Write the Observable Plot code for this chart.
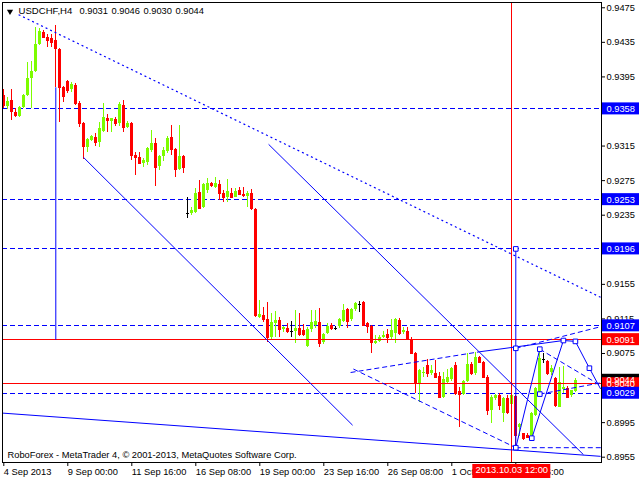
<!DOCTYPE html>
<html><head><meta charset="utf-8">
<script src="https://cdn.jsdelivr.net/npm/d3@7"></script>
<script src="https://cdn.jsdelivr.net/npm/@observablehq/plot@0.6"></script>
<style>
html,body{margin:0;padding:0;background:#fff;}
#chart svg{display:block;}
</style>
</head><body><div id="chart"></div>
<script>
const symbolTitle = "USDCHF,H4";
const headerQuote = [0.9031, 0.9046, 0.9030, 0.9044];
const copyright = "RoboForex - MetaTrader 4, \u00a9 2001-2013, MetaQuotes Software Corp.";

const opens = [.9373,.9361,.9368,.9354,.9349,.9360,.9373,.9393,.9401,.9433,.9446,.9441,.9439,.9437,.9427,.9383,.9390,.9380,.9385,.9364,
.9341,.9313,.9321,.9325,.9319,.9332,.9347,.9343,.9346,.9341,.9362,.9336,.9341,.9304,.9302,.9295,.9296,.9310,.9318,.9291,
.9303,.9309,.9325,.9311,.9288,.9303,.9237,.9237,.9238,.9261,.9244,.9264,.9272,.9267,.9271,.9260,.9255,.9260,.9255,.9264,
.9259,.9257,.9260,.9242,.9117,.9119,.9114,.9094,.9110,.9113,.9103,.9104,.9100,.9100,.9104,.9102,.9083,.9103,.9107,.9111,
.9088,.9098,.9107,.9104,.9106,.9112,.9126,.9114,.9126,.9132,.9134,.9110,.9106,.9087,.9089,.9094,.9097,.9094,.9098,.9113,
.9099,.9100,.9091,.9075,.9040,.9052,.9061,.9052,.9052,.9048,.9024,.9041,.9045,.9061,.9031,.9028,.9043,.9062,.9052,.9070,
.9065,.9047,.9009,.9023,.9026,.9006,.9023,.9016,.9025,.8989,.8982,.8980,.8979,.9003,.9029,.9068,.9066,.9053,.9046,.9013,
.9033,.9034,.9026,.9031];
const highs = [.9380,.9371,.9380,.9358,.9361,.9375,.9412,.9413,.9452,.9451,.9449,.9444,.9444,.9454,.9428,.9384,.9391,.9389,.9387,.9367,
.9342,.9324,.9327,.9330,.9342,.9364,.9352,.9347,.9348,.9365,.9368,.9343,.9342,.9308,.9308,.9301,.9313,.9333,.9324,.9304,
.9313,.9326,.9339,.9312,.9339,.9304,.9255,.9244,.9266,.9275,.9272,.9278,.9273,.9279,.9275,.9264,.9276,.9266,.9266,.9267,
.9267,.9262,.9265,.9243,.9136,.9128,.9134,.9121,.9124,.9117,.9106,.9110,.9112,.9125,.9121,.9109,.9105,.9125,.9125,.9127,
.9098,.9110,.9110,.9106,.9115,.9132,.9127,.9127,.9134,.9135,.9135,.9111,.9107,.9096,.9096,.9100,.9103,.9114,.9115,.9115,
.9105,.9105,.9094,.9076,.9056,.9059,.9068,.9061,.9067,.9053,.9053,.9056,.9059,.9065,.9036,.9044,.9075,.9065,.9076,.9071,
.9066,.9050,.9026,.9028,.9029,.9024,.9026,.9029,.9026,.8994,.8983,.8982,.9007,.9036,.9080,.9075,.9067,.9061,.9047,.9059,
.9060,.9037,.9032,.9046];
const lows = [.9358,.9357,.9345,.9348,.9348,.9358,.9372,.9358,.9400,.9431,.9441,.9429,.9429,.9383,.9342,.9365,.9376,.9377,.9362,.9336,
.9299,.9308,.9320,.9315,.9313,.9331,.9331,.9331,.9338,.9338,.9331,.9335,.9298,.9281,.9294,.9290,.9293,.9308,.9268,.9287,
.9297,.9306,.9304,.9279,.9287,.9283,.9231,.9235,.9237,.9242,.9243,.9260,.9267,.9266,.9252,.9250,.9250,.9255,.9255,.9259,
.9255,.9244,.9240,.9117,.9115,.9111,.9088,.9090,.9094,.9094,.9099,.9098,.9094,.9087,.9095,.9095,.9082,.9099,.9104,.9082,
.9085,.9097,.9102,.9102,.9104,.9111,.9104,.9112,.9124,.9122,.9107,.9098,.9075,.9085,.9088,.9092,.9087,.9091,.9087,.9096,
.9097,.9090,.9074,.9029,.9018,.9047,.9047,.9050,.9046,.9023,.9023,.9039,.9043,.9026,.8989,.9026,.9041,.9050,.9050,.9063,
.9046,.9003,.8994,.9021,.9009,.8995,.9004,.9014,.8966,.8979,.8974,.8977,.8977,.9002,.9026,.9063,.9050,.9050,.9013,.9013,
.9029,.9024,.9024,.9030];
const closes = [.9362,.9367,.9355,.9350,.9360,.9373,.9393,.9401,.9433,.9448,.9441,.9437,.9435,.9428,.9383,.9372,.9379,.9386,.9364,.9341,
.9315,.9323,.9326,.9319,.9335,.9348,.9345,.9347,.9341,.9363,.9336,.9341,.9304,.9302,.9295,.9298,.9312,.9318,.9290,.9303,
.9310,.9324,.9311,.9288,.9303,.9290,.9237,.9240,.9260,.9243,.9271,.9272,.9269,.9272,.9260,.9255,.9262,.9255,.9262,.9259,
.9258,.9260,.9243,.9119,.9120,.9114,.9094,.9111,.9113,.9103,.9105,.9100,.9100,.9104,.9097,.9097,.9103,.9111,.9112,.9087,
.9097,.9106,.9104,.9104,.9114,.9125,.9112,.9126,.9133,.9132,.9107,.9106,.9088,.9089,.9094,.9096,.9094,.9102,.9114,.9098,
.9102,.9092,.9075,.9040,.9055,.9053,.9052,.9055,.9047,.9024,.9045,.9047,.9058,.9029,.9028,.9043,.9062,.9052,.9070,.9065,
.9047,.9009,.9024,.9026,.9015,.9023,.9007,.9026,.8980,.8993,.8977,.8978,.9006,.9034,.9069,.9068,.9052,.9058,.9015,.9041,
.9036,.9024,.9032,.9044];

const dateTickBars = [0, 16, 32, 48, 64, 80, 96, 112, 128];
const dateTickLabels = ["4 Sep 2013", "9 Sep 00:00", "11 Sep 16:00", "16 Sep 08:00", "19 Sep 00:00", "23 Sep 16:00", "26 Sep 08:00", "1 Oct 00:00", "3 Oct 16:00"];
// price ticks whose labels are not covered by a level tag
const priceTicks = [0.9475, 0.9435, 0.9395, 0.9315, 0.9275, 0.9235, 0.9155, 0.9115, 0.9075, 0.8995, 0.8955];

const blueLevels = [0.9358, 0.9253, 0.9196, 0.9107, 0.9029];
const redLevels = [0.9091, 0.9040];
const lastPrice = 0.9044;
const markerBar = 127;
const markerLabel = "2013.10.03 12:00";

// trend objects: [bar1, price1, bar2, price2]
const solidLines = [
  [19.9, 0.9302, 87.2, 0.8992],
  [66.2, 0.9317, 144.9, 0.8958],
  [-0.3, 0.9006, 149.2, 0.8956],
  [128, 0.9196, 128, 0.8966],
  [13, 0.9383, 13, 0.9091],
  [119, 0.9077, 139.9, 0.9090],
  [139.9, 0.9090, 142.9, 0.9089],
  [142.9, 0.9089, 146.4, 0.9058],
  [146.4, 0.9058, 149.2, 0.9034],
  [128, 0.8966, 134, 0.9080],
  [132, 0.8977, 139.9, 0.9090]
];
const dashedLines = [
  [86.7, 0.9053, 119, 0.9077],
  [87.4, 0.9057, 128, 0.8966],
  [128, 0.9081, 149.2, 0.9106],
  [128, 0.8966, 149.4, 0.8966],
  [134, 0.9080, 149.2, 0.9038],
  [134, 0.9028, 149.2, 0.9041]
];
const dottedLines = [
  [3.7, 0.9467, 149.2, 0.9140]
];
const squarePoints = [[128, 0.9196], [128, 0.9081], [128, 0.8966], [132, 0.8977], [134, 0.9080], [134, 0.9028], [139.9, 0.9090], [142.9, 0.9089], [146.4, 0.9058]];

const BULL = "#7CFC00", BEAR = "#FF0000", DOJI = "#000000";

const bars = opens.map((o, i) => ({
  i, o, h: highs[i], l: lows[i], c: closes[i],
  color: closes[i] > o ? BULL : closes[i] < o ? BEAR : DOJI
}));
const segs = a => a.map(([x1, y1, x2, y2]) => ({x1, y1, x2, y2}));
const priceTags = [
  ...blueLevels.slice(0, 4).map(v => ({v, bg: "#0000FF"})),
  {v: redLevels[0], bg: "#FF0000"},
  {v: lastPrice, bg: "#000000"},
  {v: redLevels[1], bg: "#FF0000"},
  {v: blueLevels[4], bg: "#0000FF"}
];
const headerMarks = headerQuote.map((q, k) =>
  Plot.text([q.toFixed(4)], {frameAnchor: "top-left", dx: 77 + 32 * k, dy: 5, lineAnchor: "top", textAnchor: "start", fill: "black"})
);

const chart = Plot.plot({
  width: 640, height: 480,
  marginLeft: 2, marginRight: 39, marginTop: 2, marginBottom: 18,
  x: {domain: [-0.325, 149.425], axis: null},
  y: {domain: [0.894887, 0.94811], axis: null},
  color: {type: "identity"},
  style: {fontFamily: "'Liberation Sans', Arial, sans-serif", fontSize: "9.3px", background: "white", color: "black", overflow: "visible"},
  marks: [
    Plot.ruleY(blueLevels, {y: d => d, stroke: "blue", strokeDasharray: "5,3", shapeRendering: "crispEdges"}),
    Plot.ruleX(bars, {x: "i", y1: "l", y2: "h", stroke: "color", shapeRendering: "crispEdges"}),
    Plot.rect(bars, {x1: d => d.i - 0.375, x2: d => d.i + 0.375, y1: "o", y2: "c", fill: "color", shapeRendering: "crispEdges"}),
    Plot.ruleY(bars, {x1: d => d.i - 0.375, x2: d => d.i + 0.375, y: "c", stroke: "color", shapeRendering: "crispEdges"}),
    Plot.ruleY(redLevels, {y: d => d, stroke: "red", strokeWidth: 1, shapeRendering: "crispEdges"}),
    Plot.ruleX([markerBar], {x: d => d, stroke: "red", strokeWidth: 1, shapeRendering: "crispEdges"}),
    Plot.link(segs(solidLines), {x1: "x1", y1: "y1", x2: "x2", y2: "y2", stroke: "blue", clip: true}),
    Plot.link(segs(dashedLines), {x1: "x1", y1: "y1", x2: "x2", y2: "y2", stroke: "blue", strokeDasharray: "5,3", clip: true}),
    Plot.link(segs(dottedLines), {x1: "x1", y1: "y1", x2: "x2", y2: "y2", stroke: "blue", strokeDasharray: "2,3", strokeWidth: 1.2, clip: true}),
    Plot.dot(squarePoints, {x: d => d[0], y: d => d[1], symbol: "square", r: 2.6, stroke: "blue", fill: "white", strokeWidth: 1}),
    Plot.frame({stroke: "black", shapeRendering: "crispEdges"}),
    Plot.axisY({anchor: "right", ticks: priceTicks, tickFormat: d => d.toFixed(4), tickSize: 3, tickPadding: 2, label: null}),
    Plot.axisX({anchor: "bottom", ticks: dateTickBars, tickFormat: d => dateTickLabels[dateTickBars.indexOf(d)], textAnchor: "start", tickSize: 4, tickPadding: 2, label: null}),
    Plot.rect(priceTags, {y1: "v", y2: "v", insetTop: -6, insetBottom: -6, insetLeft: 600, insetRight: -38, fill: "bg", clip: false}),
    Plot.text(priceTags, {y: "v", text: d => d.v.toFixed(4), frameAnchor: "right", dx: 5, textAnchor: "start", fill: "white"}),
    Plot.rect([markerBar], {x1: d => d, x2: d => d, insetLeft: -39, insetRight: -39, insetTop: 462, insetBottom: -16, fill: "red", clip: false}),
    Plot.text([markerLabel], {x: () => markerBar, text: d => d, frameAnchor: "bottom", lineAnchor: "top", dy: 4, fill: "white"}),
    Plot.text([symbolTitle], {frameAnchor: "top-left", dx: 16, dy: 5, lineAnchor: "top", textAnchor: "start", fill: "black", fontSize: 9.6}),
    ...headerMarks,
    Plot.dot([0], {frameAnchor: "top-left", dx: 7.5, dy: 9, symbol: "triangle", rotate: 180, r: 2.3, fill: "black", stroke: "none"}),
    Plot.text([copyright], {frameAnchor: "bottom-left", dx: 5, dy: -5, lineAnchor: "bottom", textAnchor: "start", fill: "black"})
  ]
});
document.getElementById("chart").append(chart);
</script>
</body></html>
